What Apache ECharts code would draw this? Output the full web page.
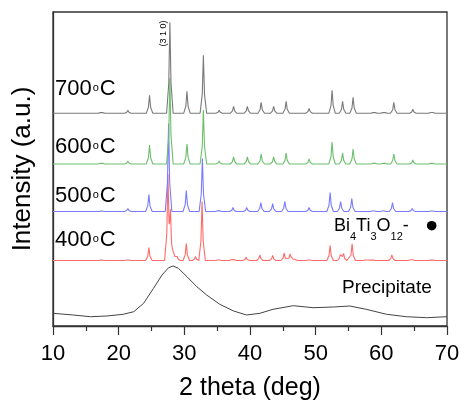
<!DOCTYPE html>
<html><head><meta charset="utf-8">
<script src="https://cdn.jsdelivr.net/npm/echarts@6/dist/echarts.min.js"></script>
<style>html,body{margin:0;padding:0;background:#fff}#c{width:461px;height:401px}</style>
</head><body><div id="c"></div>
<script>
// ---- data (2theta in deg, peak heights in a.u.) ----
const xMin = 10, xMax = 70, xStep = 10;
const pos700 = [17.4, 21.4, 24.7, 27.8, 30.4, 32.9, 35.3, 37.5, 39.6, 41.7, 43.6, 45.5, 49.0, 52.5, 54.1, 55.7, 58.9, 60.4, 61.9, 64.8, 67.7];
const h700   = [2, 3, 18, 91, 22, 58, 3, 7, 7, 11, 7, 12, 5, 23, 12, 16, 2, 2, 11, 4, 2.5];
const base700 = 212.7;
const pos600 = [17.4, 21.4, 24.7, 27.8, 30.4, 32.9, 35.3, 37.5, 39.6, 41.7, 43.6, 45.5, 49.0, 52.5, 54.1, 55.7, 58.9, 60.4, 61.9, 64.8, 67.7];
const h600   = [2, 3, 19, 86, 20, 54, 3, 7, 7, 10, 7, 11, 5, 22, 11, 15, 2, 2, 10, 4, 2];
const base600 = 162;
const pos500 = [17.4, 21.4, 24.6, 27.6, 30.3, 32.75, 35.2, 37.4, 39.5, 41.65, 43.45, 45.3, 49.0, 52.2, 53.8, 55.5, 58.8, 60.3, 61.7, 64.7, 67.7];
const h500   = [1, 3, 17, 88, 21, 53, 2, 4, 4, 9, 8, 10, 4, 19, 10, 13, 1.5, 1.5, 9, 3, 1.5];
const base500 = 114.5;
const pos400 = [17.4, 21.4, 24.6, 27.5, 27.9, 28.4, 28.9, 30.3, 31.7, 32.7, 35.2, 37.4, 39.4, 41.5, 43.45, 45.2, 46.1, 46.7, 49.0, 52.2, 53.8, 54.25, 55.55, 57.7, 58.6, 61.6, 64.6, 67.7];
const h400   = [1, 1.3, 13, 82, 43, 10, 4, 17, 4, 59, 1.5, 2.7, 3.3, 5.7, 5, 7.3, 6.7, 3.3, 1.7, 15, 7.3, 6.7, 16.7, 1.7, 1.2, 5.7, 2.3, 1.2];
const base400 = 65.5;
const precipX = [10, 13.1, 15.7, 18.2, 20.7, 22.3, 23.8, 25.3, 26.6, 27.6, 28.3, 29.1, 30.4, 31.9, 33.4, 35.4, 37.5, 39.5, 41.5, 43.5, 46.6, 49.6, 52.7, 55.2, 57.7, 60.8, 63.8, 66.9, 70];
const precipY = [12.7, 11, 9.3, 10, 11.7, 14.3, 22.7, 37.7, 51, 58.3, 60, 57.7, 49.3, 39.3, 31, 21.7, 15, 11, 12.7, 16.7, 20.3, 18.3, 19, 20, 16.7, 11.7, 9.3, 8.3, 9.3];

// peak shape (offset in deg, fraction of height)
const shapeDx = [-0.5, -0.17, 0, 0.17, 0.5];
const shapeF  = [0, 0.33, 1, 0.33, 0];

function pattern(pos, h, base) {
  const xs = [xMin, xMax];
  pos.forEach(p => shapeDx.forEach(d => xs.push(+(p + d).toFixed(3))));
  const ux = Array.from(new Set(xs)).sort((a, b) => a - b);
  return ux.map(x => {
    let y = base;
    pos.forEach((p, i) => {
      for (let k = 0; k < shapeDx.length - 1; k++) {
        const x0 = p + shapeDx[k], x1 = p + shapeDx[k + 1];
        if (x >= x0 && x <= x1) {
          const t = (x - x0) / (x1 - x0);
          y += h[i] * (shapeF[k] + t * (shapeF[k + 1] - shapeF[k]));
          break;
        }
      }
    });
    return [x, y];
  });
}

const chart = echarts.init(document.getElementById('c'), null, {renderer: 'canvas'});
const FONT = 'Liberation Sans, Arial, sans-serif';
function lineSeries(name, data, color, w) {
  return {name, type: 'line', data, showSymbol: false, symbol: 'none', animation: false,
    lineStyle: {color, width: w || 1}, z: 2};
}
const tempRich = {
  m: {fontSize: 22, fontFamily: FONT, color: '#000', verticalAlign: 'top', lineHeight: 22},
  o: {fontSize: 11, fontFamily: FONT, color: '#000', verticalAlign: 'top', lineHeight: 11, padding: [4, 1, 0, 1]}
};
function tempLabel(t, x, baseline) {
  return {type: 'text', x, y: baseline - 19, z: 10,
    style: {text: '{m|' + t + '}{o|o}{m|C}', rich: tempRich, fill: '#000', align: 'left', verticalAlign: 'top'}};
}
chart.setOption({
  animation: false,
  grid: {left: 53, right: 14, top: 12, bottom: 75, show: true, borderColor: '#333', borderWidth: 1.3,
    containLabel: false, outerBoundsMode: 'none'},
  xAxis: {
    type: 'value', min: xMin, max: xMax, interval: xStep,
    name: '2 theta (deg)', nameLocation: 'middle', nameGap: 50,
    nameTextStyle: {fontSize: 25, fontFamily: FONT, color: '#000'},
    axisLine: {lineStyle: {color: '#333', width: 1.3}},
    axisTick: {show: true, inside: false, length: 9, lineStyle: {color: '#333', width: 1.2}},
    minorTick: {show: true, splitNumber: 2, length: 5, lineStyle: {color: '#333', width: 1.2}},
    axisLabel: {fontSize: 22, fontFamily: FONT, color: '#000', margin: 17},
    splitLine: {show: false}
  },
  yAxis: {
    type: 'value', min: 0, max: 314,
    name: 'Intensity (a.u.)', nameLocation: 'middle', nameGap: 17,
    nameTextStyle: {fontSize: 26, fontFamily: FONT, color: '#000'},
    axisLine: {show: true, lineStyle: {color: '#333', width: 1.3}},
    axisTick: {show: false}, axisLabel: {show: false}, splitLine: {show: false}
  },
  series: [
    lineSeries('Precipitate', precipX.map((x, i) => [x, precipY[i]]), '#444', 1),
    lineSeries('400°C', pattern(pos400, h400, base400), '#ff6b6b', 1.1),
    lineSeries('500°C', pattern(pos500, h500, base500), '#7a7aff', 1.1),
    lineSeries('600°C', pattern(pos600, h600, base600), '#6cbf6c', 1.1),
    lineSeries('700°C', pattern(pos700, h700, base700), '#7a7a7a', 1.1)
  ],
  graphic: [
    tempLabel('700', 55, 97),
    tempLabel('600', 55, 155),
    tempLabel('500', 55, 204),
    tempLabel('400', 55, 248),
    {type: 'text', x: 342, y: 278, z: 10,
      style: {text: 'Precipitate', font: '19px ' + FONT, fill: '#000', align: 'left', verticalAlign: 'top'}},
    {type: 'text', x: 163.5, y: 33.5, rotation: Math.PI / 2, z: 10,
      style: {text: '(3 1 0)', font: '9px ' + FONT, fill: '#000', align: 'center', verticalAlign: 'middle'}},
    {type: 'text', x: 334, y: 217, z: 10,
      style: {text: '{m|Bi}{s|4}{m|Ti}{s|3}{m|O}{s|12}{m|-}', fill: '#000', align: 'left', verticalAlign: 'top',
        rich: {
          m: {fontSize: 18, fontFamily: FONT, color: '#000', verticalAlign: 'top', lineHeight: 18},
          s: {fontSize: 11, fontFamily: FONT, color: '#000', verticalAlign: 'top', lineHeight: 11, padding: [14, 0, 0, 0]}
        }}},
    {type: 'circle', shape: {cx: 431.7, cy: 225.7, r: 4.8}, style: {fill: '#000'}, z: 10}
  ]
});
</script>
</body></html>
